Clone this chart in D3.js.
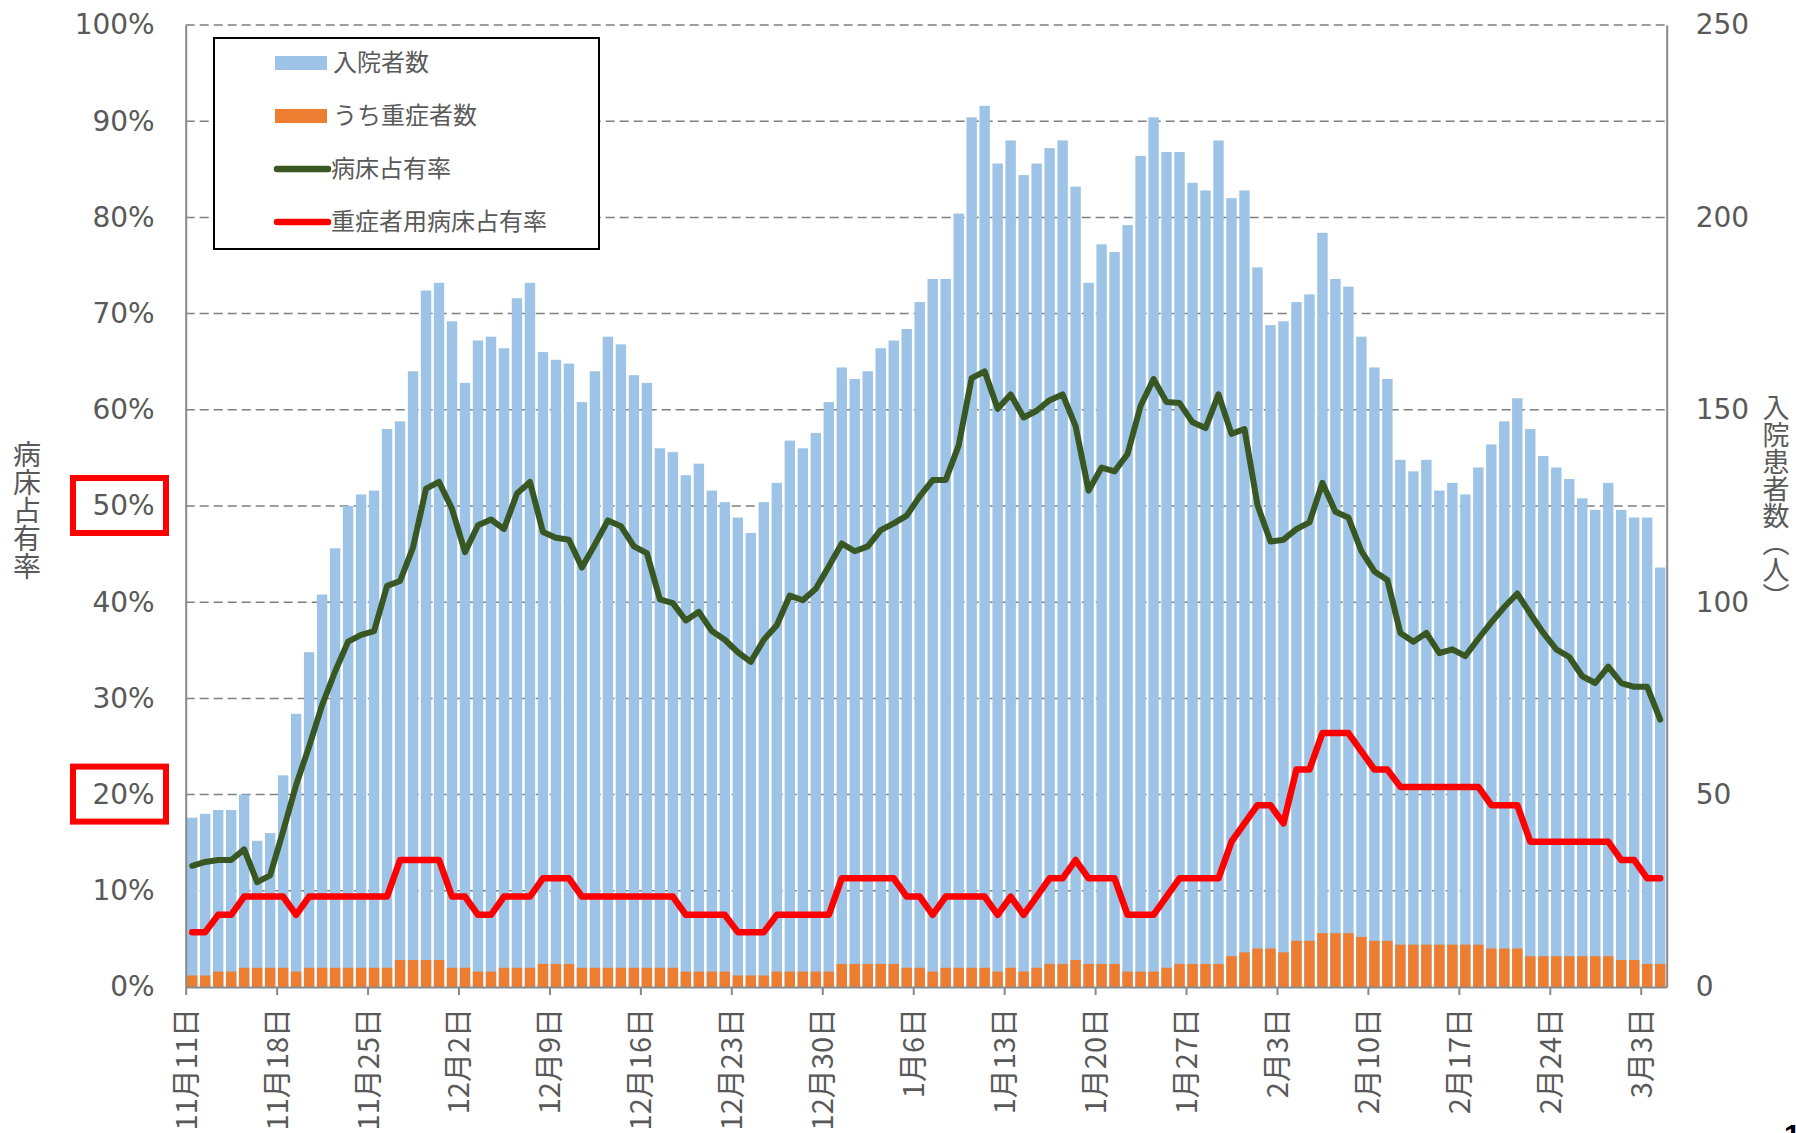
<!DOCTYPE html>
<html>
<head>
<meta charset="utf-8">
<script src="https://cdn.jsdelivr.net/npm/d3@7"></script>
<style>
  body { margin: 0; background: #fff; }
  svg { display: block; }
</style>
</head>
<body>
<div id="chart"></div>
<script>
// categories (one per day)
const dates = [
  "11月11日","11月12日","11月13日","11月14日","11月15日","11月16日","11月17日","11月18日","11月19日","11月20日",
  "11月21日","11月22日","11月23日","11月24日","11月25日","11月26日","11月27日","11月28日","11月29日","11月30日",
  "12月1日","12月2日","12月3日","12月4日","12月5日","12月6日","12月7日","12月8日","12月9日","12月10日",
  "12月11日","12月12日","12月13日","12月14日","12月15日","12月16日","12月17日","12月18日","12月19日","12月20日",
  "12月21日","12月22日","12月23日","12月24日","12月25日","12月26日","12月27日","12月28日","12月29日","12月30日","12月31日",
  "1月1日","1月2日","1月3日","1月4日","1月5日","1月6日","1月7日","1月8日","1月9日","1月10日",
  "1月11日","1月12日","1月13日","1月14日","1月15日","1月16日","1月17日","1月18日","1月19日","1月20日",
  "1月21日","1月22日","1月23日","1月24日","1月25日","1月26日","1月27日","1月28日","1月29日","1月30日","1月31日",
  "2月1日","2月2日","2月3日","2月4日","2月5日","2月6日","2月7日","2月8日","2月9日","2月10日",
  "2月11日","2月12日","2月13日","2月14日","2月15日","2月16日","2月17日","2月18日","2月19日","2月20日",
  "2月21日","2月22日","2月23日","2月24日","2月25日","2月26日","2月27日","2月28日",
  "3月1日","3月2日","3月3日","3月4日"
];

const tickLabels = ["11月11日","11月18日","11月25日","12月2日","12月9日","12月16日","12月23日","12月30日",
  "1月6日","1月13日","1月20日","1月27日","2月3日","2月10日","2月17日","2月24日","3月3日"];

// 入院者数 (people, right axis)
const inpatients = [
  44, 45, 46, 46, 50, 38, 40, 55, 71, 87,
  102, 114, 125, 128, 129, 145, 147, 160, 181, 183,
  173, 157, 168, 169, 166, 179, 183, 165, 163, 162,
  152, 160, 169, 167, 159, 157, 140, 139, 133, 136,
  129, 126, 122, 118, 126, 131, 142, 140, 144, 152,
  161, 158, 160, 166, 168, 171, 178, 184, 184, 201,
  226, 229, 214, 220, 211, 214, 218, 220, 208, 183,
  193, 191, 198, 216, 226, 217, 217, 209, 207, 220,
  205, 207, 187, 172, 173, 178, 180, 196, 184, 182,
  169, 161, 158, 137, 134, 137, 129, 131, 128, 135,
  141, 147, 153, 145, 138, 135, 132, 127, 124, 131,
  124, 122, 122, 109
];

// うち重症者数 (people, right axis)
const severe = [
  3, 3, 4, 4, 5, 5, 5, 5, 4, 5,
  5, 5, 5, 5, 5, 5, 7, 7, 7, 7,
  5, 5, 4, 4, 5, 5, 5, 6, 6, 6,
  5, 5, 5, 5, 5, 5, 5, 5, 4, 4,
  4, 4, 3, 3, 3, 4, 4, 4, 4, 4,
  6, 6, 6, 6, 6, 5, 5, 4, 5, 5,
  5, 5, 4, 5, 4, 5, 6, 6, 7, 6,
  6, 6, 4, 4, 4, 5, 6, 6, 6, 6,
  8, 9, 10, 10, 9, 12, 12, 14, 14, 14,
  13, 12, 12, 11, 11, 11, 11, 11, 11, 11,
  10, 10, 10, 8, 8, 8, 8, 8, 8, 8,
  7, 7, 6, 6
];

// 病床占有率 (%, left axis)
const bedRate = [
  12.6, 13.0, 13.2, 13.2, 14.3, 10.9, 11.6, 16.2, 21.0, 25.0,
  29.3, 32.8, 35.9, 36.6, 37.0, 41.7, 42.2, 45.7, 51.8, 52.5,
  49.7, 45.2, 48.0, 48.6, 47.6, 51.3, 52.5, 47.3, 46.7, 46.5,
  43.6, 46.0, 48.5, 47.9, 45.8, 45.1, 40.3, 39.9, 38.1, 39.0,
  37.0, 36.1, 34.8, 33.8, 36.1, 37.6, 40.7, 40.2, 41.4, 43.7,
  46.1, 45.3, 45.8, 47.5, 48.2, 49.0, 51.0, 52.7, 52.7, 56.3,
  63.3, 64.0, 60.1, 61.6, 59.2, 59.9, 61.0, 61.6, 58.3, 51.6,
  54.0, 53.6, 55.4, 60.4, 63.2, 60.8, 60.7, 58.7, 58.1, 61.6,
  57.5, 58.0, 50.1, 46.3, 46.5, 47.6, 48.3, 52.4, 49.4, 48.8,
  45.3, 43.2, 42.3, 36.8, 35.9, 36.8, 34.7, 35.1, 34.4, 36.2,
  37.9, 39.5, 40.9, 38.8, 36.8, 35.1, 34.3, 32.3, 31.6, 33.3,
  31.6, 31.2, 31.2, 27.8
];

// 重症者用病床占有率 (%, left axis)
const severeBedRate = [
  5.7, 5.7, 7.5, 7.5, 9.4, 9.4, 9.4, 9.4, 7.5, 9.4,
  9.4, 9.4, 9.4, 9.4, 9.4, 9.4, 13.2, 13.2, 13.2, 13.2,
  9.4, 9.4, 7.5, 7.5, 9.4, 9.4, 9.4, 11.3, 11.3, 11.3,
  9.4, 9.4, 9.4, 9.4, 9.4, 9.4, 9.4, 9.4, 7.5, 7.5,
  7.5, 7.5, 5.7, 5.7, 5.7, 7.5, 7.5, 7.5, 7.5, 7.5,
  11.3, 11.3, 11.3, 11.3, 11.3, 9.4, 9.4, 7.5, 9.4, 9.4,
  9.4, 9.4, 7.5, 9.4, 7.5, 9.4, 11.3, 11.3, 13.2, 11.3,
  11.3, 11.3, 7.5, 7.5, 7.5, 9.4, 11.3, 11.3, 11.3, 11.3,
  15.1, 17.0, 18.9, 18.9, 17.0, 22.6, 22.6, 26.4, 26.4, 26.4,
  24.5, 22.6, 22.6, 20.8, 20.8, 20.8, 20.8, 20.8, 20.8, 20.8,
  18.9, 18.9, 18.9, 15.1, 15.1, 15.1, 15.1, 15.1, 15.1, 15.1,
  13.2, 13.2, 11.3, 11.3
];

const pctTicks = [0, 10, 20, 30, 40, 50, 60, 70, 80, 90, 100];
const countTicks = [0, 50, 100, 150, 200, 250];
const highlighted = [50, 20];

const legendItems = [
  { label: "入院者数", type: "bar", color: "#9dc3e6" },
  { label: "うち重症者数", type: "bar", color: "#ed7d31" },
  { label: "病床占有率", type: "line", color: "#385723" },
  { label: "重症者用病床占有率", type: "line", color: "#ff0000" }
];

const W = 1796, H = 1133;
const plotLeft = 185.7, plotRight = 1666.7, plotTop = 25, plotBottom = 987;
const grey = "#595959";
const numFont = "'DejaVu Sans', Verdana, sans-serif";
const jpFont = "'Noto Sans CJK JP', sans-serif";

const svg = d3.select("#chart").append("svg")
  .attr("width", W)
  .attr("height", H);

// scales
const x = d3.scaleBand()
  .domain(dates)
  .range([plotLeft, plotRight])
  .paddingInner(0.2)
  .paddingOuter(0.1);

const xTick = d3.scaleLinear()
  .domain([0, dates.length])
  .range([plotLeft, plotRight]);

const yPct = d3.scaleLinear().domain([0, 100]).range([plotBottom, plotTop]);
const yCount = d3.scaleLinear().domain([0, 250]).range([plotBottom, plotTop]);

// dashed grid lines
svg.append("g")
  .selectAll("line")
  .data(pctTicks.filter(d => d > 0))
  .join("line")
  .attr("x1", plotLeft)
  .attr("x2", plotRight)
  .attr("y1", d => yPct(d))
  .attr("y2", d => yPct(d))
  .attr("stroke", "#7f7f7f")
  .attr("stroke-width", 1.5)
  .attr("stroke-dasharray", "9,5");

// bars: inpatients, then severe overlapped on top
svg.append("g")
  .selectAll("rect")
  .data(inpatients)
  .join("rect")
  .attr("x", (d, i) => x(dates[i]))
  .attr("y", d => yCount(d))
  .attr("width", x.bandwidth())
  .attr("height", d => plotBottom - yCount(d))
  .attr("fill", "#9dc3e6");

svg.append("g")
  .selectAll("rect")
  .data(severe)
  .join("rect")
  .attr("x", (d, i) => x(dates[i]))
  .attr("y", d => yCount(d))
  .attr("width", x.bandwidth())
  .attr("height", d => plotBottom - yCount(d))
  .attr("fill", "#ed7d31");

// axes
const xAxis = svg.append("g")
  .attr("transform", `translate(0,${plotBottom})`)
  .call(d3.axisBottom(xTick)
    .tickValues(tickLabels.map(l => dates.indexOf(l)))
    .tickFormat(i => dates[i])
    .tickSizeInner(8)
    .tickSizeOuter(0));
xAxis.select(".domain").attr("stroke", "#898989").attr("stroke-width", 2);
xAxis.selectAll(".tick line").attr("stroke", "#898989").attr("stroke-width", 2);
xAxis.selectAll(".tick text")
  .attr("font-family", jpFont)
  .attr("font-size", 29)
  .attr("fill", grey)
  .attr("text-anchor", "end")
  .attr("transform", "rotate(-90)")
  .attr("x", -21)
  .attr("y", 0)
  .attr("dy", "0.36em");

const yAxisL = svg.append("g")
  .attr("transform", `translate(${plotLeft},0)`)
  .call(d3.axisLeft(yPct)
    .tickValues(pctTicks)
    .tickFormat(d => d + "%")
    .tickSize(0)
    .tickPadding(31));
yAxisL.select(".domain").attr("stroke", "#898989").attr("stroke-width", 2);
yAxisL.selectAll(".tick text")
  .attr("font-family", numFont)
  .attr("font-size", 28)
  .attr("fill", grey);

const yAxisR = svg.append("g")
  .attr("transform", `translate(${plotRight},0)`)
  .call(d3.axisRight(yCount)
    .tickValues(countTicks)
    .tickSize(0)
    .tickPadding(29));
yAxisR.select(".domain").attr("stroke", "#898989").attr("stroke-width", 2);
yAxisR.selectAll(".tick text")
  .attr("font-family", numFont)
  .attr("font-size", 28)
  .attr("fill", grey);

// occupancy lines
const cx = (d, i) => x(dates[i]) + x.bandwidth() / 2;

svg.append("path")
  .datum(bedRate)
  .attr("fill", "none")
  .attr("stroke", "#385723")
  .attr("stroke-width", 6)
  .attr("stroke-linejoin", "round")
  .attr("stroke-linecap", "round")
  .attr("d", d3.line().x(cx).y(d => yPct(d)));

svg.append("path")
  .datum(severeBedRate)
  .attr("fill", "none")
  .attr("stroke", "#ff0000")
  .attr("stroke-width", 6.5)
  .attr("stroke-linejoin", "round")
  .attr("stroke-linecap", "round")
  .attr("d", d3.line().x(cx).y(d => yPct(d)));

// axis titles (vertical Japanese)
svg.append("text")
  .attr("x", 27)
  .attr("y", 510)
  .attr("text-anchor", "middle")
  .style("writing-mode", "vertical-rl")
  .attr("font-family", jpFont)
  .attr("font-size", 28)
  .attr("fill", grey)
  .text("病床占有率");

svg.append("text")
  .attr("x", 1776)
  .attr("y", 502)
  .attr("text-anchor", "middle")
  .style("writing-mode", "vertical-rl")
  .attr("font-family", jpFont)
  .attr("font-size", 27)
  .attr("fill", grey)
  .text("入院患者数（人）");

// legend
const legend = svg.append("g");
legend.append("rect")
  .attr("x", 214)
  .attr("y", 38)
  .attr("width", 385)
  .attr("height", 211)
  .attr("fill", "#fff")
  .attr("stroke", "#000")
  .attr("stroke-width", 2);

const rows = legend.selectAll("g.item")
  .data(legendItems)
  .join("g")
  .attr("class", "item")
  .attr("transform", (d, i) => `translate(275,${63 + i * 53})`);

rows.filter(d => d.type === "bar").append("rect")
  .attr("x", 0)
  .attr("y", -7)
  .attr("width", 52)
  .attr("height", 14)
  .attr("fill", d => d.color);

rows.filter(d => d.type === "line").append("line")
  .attr("x1", 2)
  .attr("x2", 53)
  .attr("y1", 0)
  .attr("y2", 0)
  .attr("stroke", d => d.color)
  .attr("stroke-width", 6.5)
  .attr("stroke-linecap", "round");

rows.append("text")
  .attr("x", d => d.type === "bar" ? 58 : 56)
  .attr("y", 0)
  .attr("dy", "0.35em")
  .attr("font-family", jpFont)
  .attr("font-size", 24)
  .attr("fill", grey)
  .text(d => d.label);

// red highlight boxes around selected tick labels
svg.append("g")
  .selectAll("rect")
  .data(highlighted)
  .join("rect")
  .attr("x", 73)
  .attr("y", d => yPct(d) - 28)
  .attr("width", 93)
  .attr("height", 55)
  .attr("fill", "none")
  .attr("stroke", "#ff0000")
  .attr("stroke-width", 6);

// page number, cut off at the edge as in the original
svg.append("text")
  .attr("x", 1784)
  .attr("y", 1145)
  .attr("font-family", "'Liberation Sans', Arial, sans-serif")
  .attr("font-weight", "bold")
  .attr("font-size", 30)
  .attr("fill", "#000")
  .text("1");
</script>
</body>
</html>
